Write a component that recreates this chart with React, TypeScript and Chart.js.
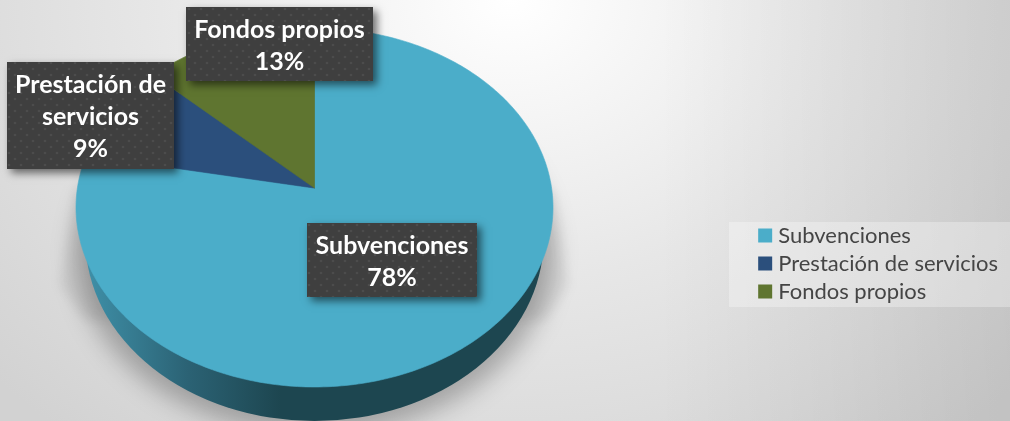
import React, { useEffect, useRef } from "react";
import { Chart, registerables } from "chart.js";

Chart.register(...registerables);

const categories = ["Subvenciones", "Prestación de servicios", "Fondos propios"];
const shares = [78, 9, 13];
const sliceColors = ["#4badc9", "#2b4f7c", "#5f7530"];
const labelLines = [["Subvenciones"], ["Prestación de", "servicios"], ["Fondos propios"]];
const labelBoxes = [
  { x: 307, y: 223, w: 170, h: 74 },
  { x: 7, y: 62, w: 167, h: 107 },
  { x: 186, y: 7, w: 187, h: 74 },
];

const FONT = "Lato, Carlito, Calibri, sans-serif";
const PIE = { cx: 314.5, cy: 207.5, rx: 238.5, ry: 179.5, persp: 0.108 };
const BASE = { cy: 240, rx: 229, ry: 181 };

function project(u: number, v: number) {
  const d = PIE.persp;
  const w = 1 + d * v;
  const U = (u * Math.sqrt(1 - d * d)) / w;
  const V = (v + d) / w;
  return { x: PIE.cx + U * PIE.rx, y: PIE.cy - V * PIE.ry };
}

function dotPattern(ctx: CanvasRenderingContext2D) {
  const t = document.createElement("canvas");
  t.width = 12;
  t.height = 12;
  const c = t.getContext("2d")!;
  c.fillStyle = "#3f3f3f";
  c.fillRect(0, 0, 12, 12);
  c.fillStyle = "#4c4c4c";
  [[3, 3], [9, 9]].forEach(([x, y]) => {
    c.beginPath();
    c.arc(x, y, 1.3, 0, Math.PI * 2);
    c.fill();
  });
  return ctx.createPattern(t, "repeat")!;
}

const piePlugin = {
  id: "obliquePie",
  beforeDraw(chart: any) {
    const { ctx } = chart;
    ctx.save();
    ctx.fillStyle = "rgba(255,255,255,0.3)";
    ctx.fillRect(729, 222, 281, 85);
    // ground shadow: soft body plus the faint wedge on either flank
    ctx.filter = "blur(12px)";
    ctx.fillStyle = "rgba(0,0,0,0.27)";
    ctx.beginPath();
    ctx.ellipse(PIE.cx, 252, 238, 182, 0, 0, Math.PI * 2);
    ctx.fill();
    ctx.filter = "blur(6px)";
    ctx.fillStyle = "rgba(0,0,0,0.07)";
    ctx.beginPath();
    ctx.moveTo(76, 190);
    ctx.lineTo(553, 190);
    ctx.lineTo(568, 285);
    ctx.lineTo(545, 320);
    ctx.lineTo(85, 320);
    ctx.lineTo(60, 285);
    ctx.closePath();
    ctx.fill();
    ctx.restore();
  },
  beforeDatasetsDraw(chart: any) {
    const { ctx } = chart;
    const arcs = chart.getDatasetMeta(0).data;
    ctx.save();
    // side wall
    const g = ctx.createLinearGradient(PIE.cx - BASE.rx, 0, PIE.cx, 0);
    g.addColorStop(0, "#3f90a8");
    g.addColorStop(0.45, "#2b6274");
    g.addColorStop(0.85, "#1d4650");
    g.addColorStop(1, "#1d4650");
    ctx.fillStyle = g;
    ctx.beginPath();
    ctx.ellipse(PIE.cx, BASE.cy, BASE.rx, BASE.ry, 0, 0, Math.PI * 2);
    ctx.fill();
    // top faces
    arcs.forEach((arc: any) => {
      const start = arc.startAngle + Math.PI / 2;
      const end = arc.endAngle + Math.PI / 2;
      const apex = project(0, 0);
      ctx.beginPath();
      ctx.moveTo(apex.x, apex.y);
      const steps = Math.max(4, Math.ceil((end - start) * 60));
      for (let s = 0; s <= steps; s++) {
        const t = start + ((end - start) * s) / steps;
        const p = project(Math.sin(t), Math.cos(t));
        ctx.lineTo(p.x, p.y);
      }
      ctx.closePath();
      ctx.fillStyle = arc.options.backgroundColor;
      ctx.strokeStyle = arc.options.backgroundColor;
      ctx.lineWidth = 0.6;
      ctx.fill();
      ctx.stroke();
    });
    ctx.restore();
    return false;
  },
  afterDraw(chart: any) {
    const { ctx } = chart;
    const total = shares.reduce((a, b) => a + b, 0);
    const pattern = dotPattern(ctx);
    [1, 2, 0].forEach((i) => {
      const b = labelBoxes[i];
      ctx.save();
      ctx.shadowColor = "rgba(0,0,0,0.55)";
      ctx.shadowBlur = 8;
      ctx.shadowOffsetX = 4;
      ctx.shadowOffsetY = 4;
      ctx.fillStyle = "#3f3f3f";
      ctx.fillRect(b.x, b.y, b.w, b.h);
      ctx.restore();
      ctx.save();
      ctx.fillStyle = pattern;
      ctx.fillRect(b.x, b.y, b.w, b.h);
      ctx.font = `bold 25px ${FONT}`;
      ctx.fillStyle = "#ffffff";
      ctx.textAlign = "center";
      ctx.textBaseline = "middle";
      const lines = [...labelLines[i], `${Math.round((shares[i] / total) * 100)}%`];
      lines.forEach((line, k) => {
        ctx.fillText(line, b.x + b.w / 2, b.y + 1.5 + b.h / 2 + (k - (lines.length - 1) / 2) * 32);
      });
      ctx.restore();
    });
  },
};

export default function App() {
  const ref = useRef<HTMLCanvasElement>(null);
  useEffect(() => {
    document.body.style.margin = "0";
    const chart = new Chart(ref.current!, {
      type: "pie",
      data: {
        labels: categories,
        datasets: [{ data: shares, backgroundColor: sliceColors, borderWidth: 0 }],
      },
      options: {
        animation: false,
        responsive: false,
        layout: { padding: { top: 106, right: 2 } },
        plugins: {
          tooltip: { enabled: false },
          legend: {
            position: "right",
            labels: {
              usePointStyle: true,
              pointStyle: "rect",
              boxWidth: 4,
              boxHeight: 14,
              padding: 6,
              color: "#454545",
              font: { family: FONT, size: 22 },
            },
          },
        },
      },
      plugins: [piePlugin],
    } as any);
    return () => chart.destroy();
  }, []);
  return (
    <div
      style={{
        width: 1010,
        height: 421,
        overflow: "hidden",
        background:
          "linear-gradient(to right, rgba(0,0,0,0) 65%, rgba(0,0,0,0.08) 100%), radial-gradient(ellipse 700px 560px at 510px 0px, #ffffff 0%, #f3f3f3 25%, #e7e7e7 50%, #dddddd 75%, #d2d2d2 100%)",
      }}
    >
      <canvas ref={ref} width={1010} height={421} style={{ display: "block" }} />
    </div>
  );
}
